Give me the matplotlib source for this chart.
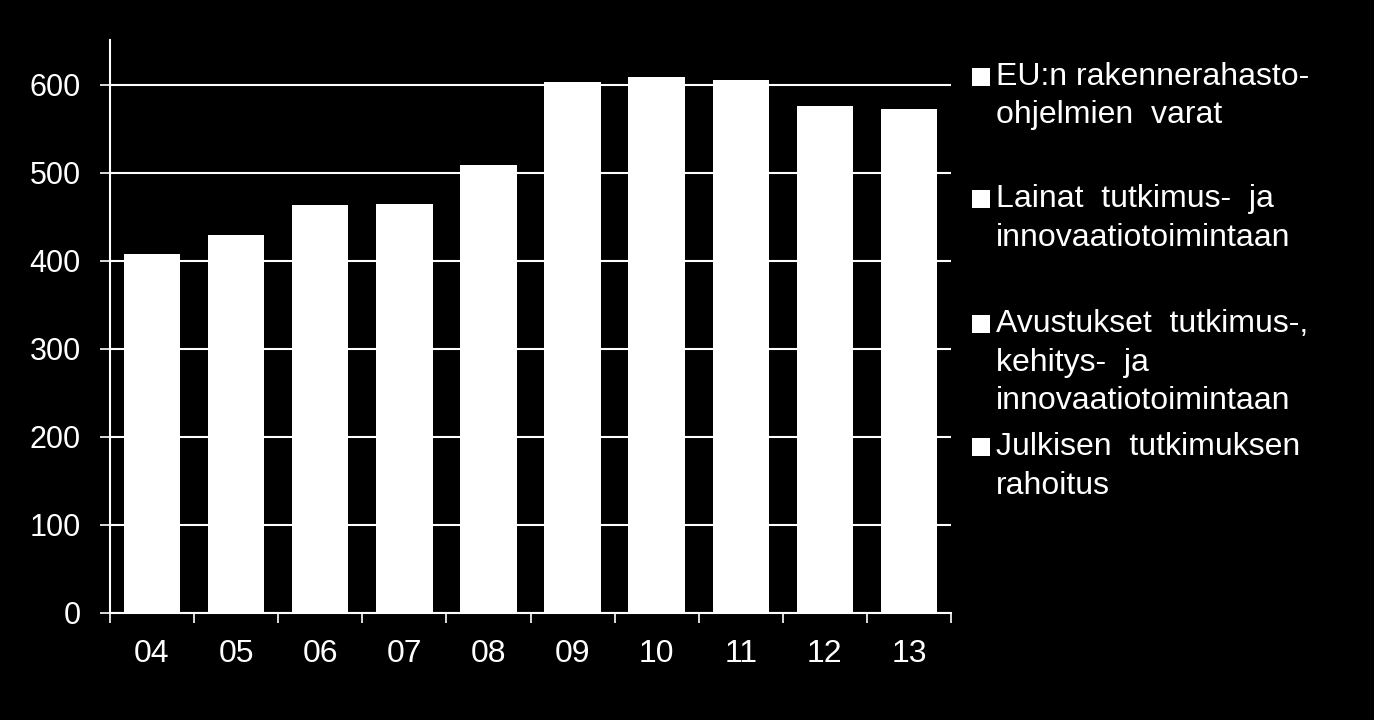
import matplotlib
matplotlib.use("Agg")
import matplotlib.pyplot as plt
from matplotlib.patches import Rectangle

years = ["04", "05", "06", "07", "08", "09", "10", "11", "12", "13"]
totals = [408, 429, 463, 465, 509, 603, 609, 606, 576, 573]
legend_labels = [
    ["EU:n rakennerahasto-", "ohjelmien  varat"],
    ["Lainat  tutkimus-  ja", "innovaatiotoimintaan"],
    ["Avustukset  tutkimus-,", "kehitys-  ja", "innovaatiotoimintaan"],
    ["Julkisen  tutkimuksen", "rahoitus"],
]
yticks = [0, 100, 200, 300, 400, 500, 600]

plt.rcParams['font.family'] = ['Liberation Sans', 'DejaVu Sans']

W, H = 1374, 720
fig = plt.figure(figsize=(W / 100, H / 100), dpi=100, facecolor="black")
ax = fig.add_axes([110 / W, (H - 613) / H, (951 - 110) / W, (613 - 40) / H])
ax.set_facecolor("black")

x = list(range(len(years)))
ax.bar(x, totals, width=0.67, color="white", zorder=3)

ax.set_xlim(-0.5, len(years) - 0.5)
ax.set_ylim(0, 651)
ax.set_yticks(yticks)
ax.set_yticklabels([str(v) for v in yticks], fontsize=22, color="white")
ax.set_xticks([i - 0.5 for i in range(len(years) + 1)])
ax.set_xticklabels([])
ax.set_xticks(x, minor=True)
ax.set_xticklabels(years, minor=True, fontsize=23, color="white")
ax.tick_params(axis="x", which="major", direction="out", length=7, width=1.2, color="white")
ax.tick_params(axis="x", which="minor", length=0, pad=19)
ax.tick_params(axis="y", direction="out", length=7, width=1.2, color="white", pad=14)

ax.yaxis.grid(True, color="white", linewidth=1.5, zorder=0)
ax.set_axisbelow(True)
for s in ["top", "right"]:
    ax.spines[s].set_visible(False)
for s in ["left", "bottom"]:
    ax.spines[s].set_color("white")
    ax.spines[s].set_linewidth(1.5)

# legend, PowerPoint style, evenly spread (baselines of first lines)
baselines = [85, 207, 332, 455]
line_h = 38.5
for lines, b0 in zip(legend_labels, baselines):
    fig.patches.append(Rectangle((972 / W, (H - b0 - 1) / H), 18 / W, 18 / H,
                                 transform=fig.transFigure, facecolor="white",
                                 edgecolor="none"))
    for k, ln in enumerate(lines):
        fig.text(996 / W, (H - (b0 + k * line_h)) / H, ln, color="white",
                 fontsize=23, va="baseline", ha="left")

fig.savefig("out.png", dpi=100, facecolor="black")
